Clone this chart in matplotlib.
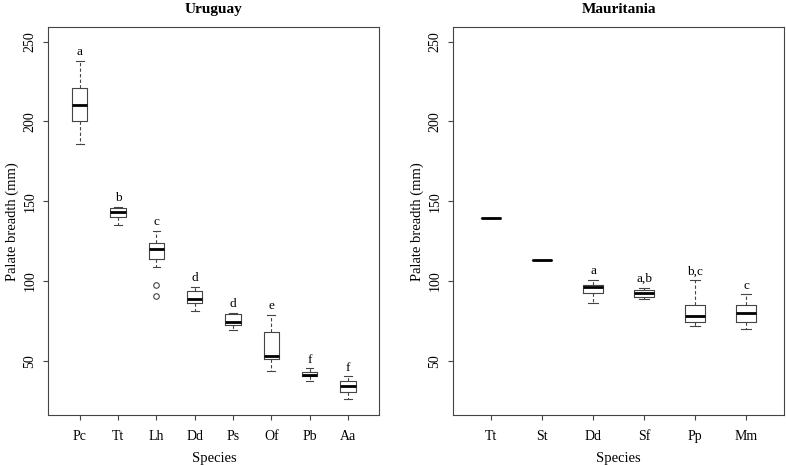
import numpy as np
import matplotlib
matplotlib.use("Agg")
import matplotlib.pyplot as plt

plt.rcParams['font.family'] = ['Liberation Serif', 'DejaVu Serif']

# Uruguay
uy_species = ['Pc', 'Tt', 'Lh', 'Dd', 'Ps', 'Of', 'Pb', 'Aa']
uy_whislo  = [186.0, 134.8, 108.6, 81.3, 69.2, 43.4, 37.5, 26.1]
uy_q1      = [200.4, 139.8, 114.0, 86.5, 72.7, 51.0, 40.2, 30.6]
uy_med     = [210.0, 143.1, 120.0, 88.5, 74.2, 53.1, 41.1, 34.0]
uy_q3      = [221.0, 145.9, 123.8, 93.8, 79.6, 68.1, 42.7, 37.5]
uy_whishi  = [237.9, 146.5, 131.5, 96.5, 80.0, 78.8, 45.4, 40.2]
uy_fliers  = [[], [], [97.3, 90.9], [], [], [], [], []]
uy_groups  = ['a', 'b', 'c', 'd', 'd', 'e', 'f', 'f']

# Mauritania
mr_species = ['Tt', 'St', 'Dd', 'Sf', 'Pp', 'Mm']
mr_whislo  = [139.2, 113.4, 85.9, 88.4, 71.8, 70.2]
mr_q1      = [139.2, 113.4, 92.3, 90.2, 74.6, 74.0]
mr_med     = [139.2, 113.4, 96.0, 92.7, 78.3, 79.8]
mr_q3      = [139.2, 113.4, 97.3, 94.2, 85.0, 85.0]
mr_whishi  = [139.2, 113.4, 100.9, 95.9, 100.4, 91.7]
mr_fliers  = [[], [], [], [], [], []]
mr_groups  = ['', '', 'a', 'a,b', 'b,c', 'c']

edge = '#444444'

def draw_panel( ax, title, names, wlo, q1, med, q3, whi, fl, groups, xpad ):

    stats = []
    for i in range(len(names)):
        stats.append(dict(label=names[i], whislo=wlo[i], q1=q1[i], med=med[i],
                          q3=q3[i], whishi=whi[i], fliers=fl[i]))

    pos = np.arange(1, len(names)+1)
    ax.bxp(stats, positions=pos, widths=0.4, showfliers=True,
           boxprops=dict(color=edge, linewidth=0.8),
           whiskerprops=dict(color=edge, linewidth=0.8, linestyle=(0, (3, 2))),
           capprops=dict(color=edge, linewidth=0.8),
           medianprops=dict(color='black', linewidth=2.0, solid_capstyle='butt'),
           flierprops=dict(marker='o', markerfacecolor='none', markeredgecolor=edge,
                           markersize=4, markeredgewidth=0.8))

    # group letters above the upper whisker
    for i, g in enumerate(groups):
        if g:
            ax.annotate(g, (pos[i], whi[i]), xytext=(0, 4), textcoords='offset points',
                        ha='center', va='baseline', fontsize=9.5)

    ax.set_xlim(1-xpad, len(names)+xpad)
    ax.set_ylim(16, 259)
    ax.set_yticks([50, 100, 150, 200, 250])
    ax.set_xticks(pos)
    ax.set_xticklabels(names)
    for lab in ax.get_yticklabels():
        lab.set_rotation(90)
        lab.set_va('center')
    ax.tick_params(axis='both', length=3.5, width=0.8, color=edge, labelsize=10)
    ax.tick_params(axis='x', pad=7)
    ax.tick_params(axis='y', pad=5)
    for s in ax.spines.values():
        s.set_color(edge)
        s.set_linewidth(0.8)
    ax.set_title(title, fontweight='bold', fontsize=11, pad=10)
    ax.set_xlabel('Species', fontsize=10.5, labelpad=7)
    ax.set_ylabel('Palate breadth (mm)', fontsize=10.5, labelpad=3)

fig = plt.figure(figsize=(7.86, 4.65), dpi=100)
ax1 = fig.add_axes([0.0615, 0.1075, 0.4211, 0.8338])
ax2 = fig.add_axes([0.5767, 0.1075, 0.4207, 0.8338])

draw_panel(ax1, 'Uruguay', uy_species, uy_whislo, uy_q1, uy_med, uy_q3, uy_whishi,
           uy_fliers, uy_groups, 0.82)
draw_panel(ax2, 'Mauritania', mr_species, mr_whislo, mr_q1, mr_med, mr_q3, mr_whishi,
           mr_fliers, mr_groups, 0.74)

fig.savefig('out.png', dpi=100)
